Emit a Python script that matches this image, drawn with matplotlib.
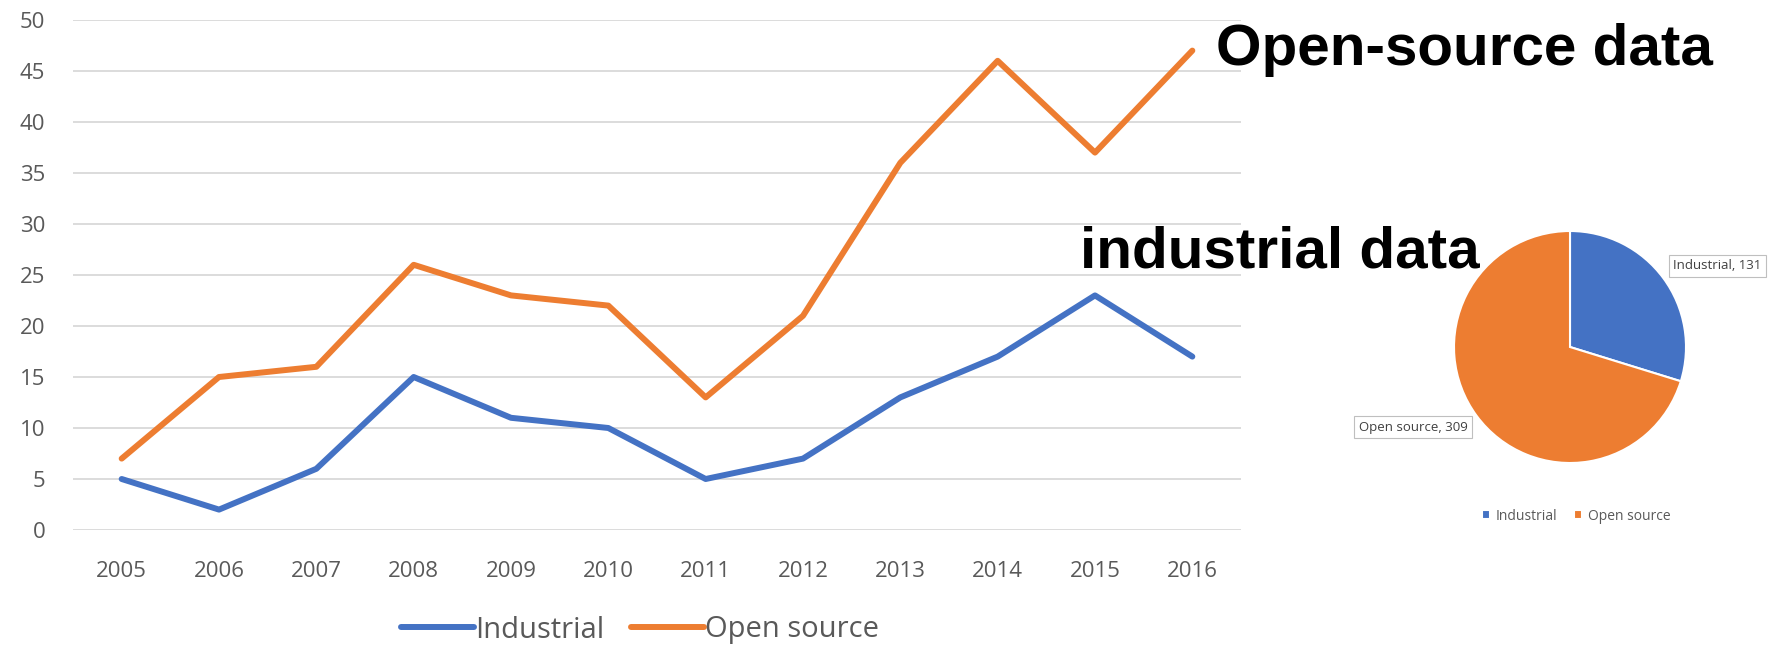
import matplotlib.pyplot as plt
import numpy as np

# Yearly counts for each data type
years = ['2005', '2006', '2007', '2008', '2009', '2010',
         '2011', '2012', '2013', '2014', '2015', '2016']
industrial = [5, 2, 6, 15, 11, 10, 5, 7, 13, 17, 23, 17]
open_source = [7, 15, 16, 26, 23, 22, 13, 21, 36, 46, 37, 47]

# Totals shown in the pie
pie_labels = ['Industrial', 'Open source']
pie_values = [sum(industrial), sum(open_source)]

blue = '#4472C4'
orange = '#ED7D31'
grey_text = '#595959'

plt.rcParams['font.family'] = ['Open Sans', 'DejaVu Sans']

W, H = 1769, 645
fig = plt.figure(figsize=(W / 100, H / 100), dpi=100)

# Line chart
ax = fig.add_axes([73 / W, 1 - 530 / H, (1241 - 73) / W, (530 - 20) / H])
x = np.arange(len(years))
ax.plot(x, industrial, color=blue, lw=4.3, solid_capstyle='round', solid_joinstyle='round',
        label='Industrial')
ax.plot(x, open_source, color=orange, lw=4.3, solid_capstyle='round', solid_joinstyle='round',
        label='Open source')
ax.set_xlim(-0.5, len(years) - 0.5)
ax.set_ylim(0, 50)
ax.set_yticks(range(0, 51, 5))
ax.set_xticks(x)
ax.set_xticklabels(years)
ax.grid(axis='y', color='#D9D9D9', lw=1.3)
ax.set_axisbelow(True)
for s in ax.spines.values():
    s.set_visible(False)
ax.tick_params(length=0, labelsize=16, colors=grey_text)
ax.tick_params(axis='x', pad=22)
ax.tick_params(axis='y', pad=20)

# Bottom legend
leg = fig.legend(loc='center', bbox_to_anchor=(640 / W, 1 - 630 / H),
                 handles=ax.get_lines(), ncol=2, frameon=False, fontsize=21,
                 handlelength=2.5, handletextpad=0.05, columnspacing=0.9)
for t in leg.get_texts():
    t.set_color(grey_text)

# Pie chart
r = 116
cx, cy = 1570, 347
pax = fig.add_axes([(cx - r) / W, 1 - (cy + r) / H, 2 * r / W, 2 * r / H])
wedges, _ = pax.pie(pie_values, colors=[blue, orange], startangle=90, counterclock=False,
                    radius=1, wedgeprops=dict(edgecolor='white', linewidth=1.5))
pax.set_xlim(-1, 1)
pax.set_ylim(-1, 1)
pax.set_aspect('equal')

box = dict(boxstyle='square,pad=0.35', fc='white', ec='#BFBFBF', lw=0.8)
pax.text(1.27, 0.70, f'{pie_labels[0]}, {pie_values[0]}', ha='center', va='center',
         fontsize=9.5, color='#404040', bbox=box, clip_on=False)
pax.text(-1.35, -0.69, f'{pie_labels[1]}, {pie_values[1]}', ha='center', va='center',
         fontsize=9.5, color='#404040', bbox=box, clip_on=False)

pleg = fig.legend(wedges, pie_labels, loc='center', bbox_to_anchor=(1576 / W, 1 - 516 / H),
                  ncol=2, frameon=False, fontsize=10, handlelength=0.6, handleheight=0.6,
                  handletextpad=0.4, columnspacing=1.2)
for t in pleg.get_texts():
    t.set_color(grey_text)

# Big annotations
fig.text(1216 / W, 1 - 65 / H, 'Open-source data', fontsize=42, fontweight='bold',
         family='Liberation Sans', color='black', ha='left', va='baseline')
fig.text(1080 / W, 1 - 267 / H, 'industrial data', fontsize=42, fontweight='bold',
         family='Liberation Sans', color='black', ha='left', va='baseline')

fig.savefig('out.png', dpi=100)
